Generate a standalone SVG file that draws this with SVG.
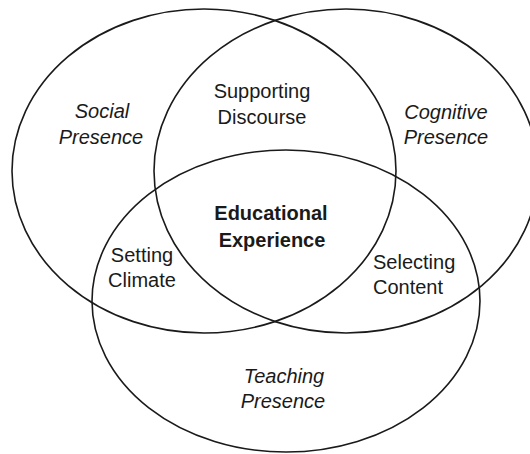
<svg xmlns="http://www.w3.org/2000/svg" width="530" height="454" viewBox="0 0 530 454">
<style>
.c{fill:none;stroke:#1a1a1a;stroke-width:1.6}
text{font-family:"Liberation Sans",Arial,sans-serif;font-size:20px;fill:#1a1a1a}
.i{font-style:italic}
.b{font-weight:bold}
.m{text-anchor:middle}
</style>
<rect width="530" height="454" fill="#fff"/>
<g id="social">
<ellipse class="c" cx="204" cy="171" rx="192" ry="162"/>
<text class="i m" x="102" y="118">Social</text>
<text class="i m" x="101" y="144">Presence</text>
</g>
<g id="cognitive">
<ellipse class="c" cx="346" cy="171" rx="192" ry="162"/>
<text class="i m" x="446" y="119">Cognitive</text>
<text class="i m" x="446" y="144">Presence</text>
</g>
<g id="teaching">
<ellipse class="c" cx="286" cy="301" rx="194" ry="151"/>
<text class="i m" x="284" y="383">Teaching</text>
<text class="i m" x="283" y="408">Presence</text>
</g>
<g id="supporting-discourse">
<text class="m" x="262" y="98">Supporting</text>
<text class="m" x="262" y="124">Discourse</text>
</g>
<g id="setting-climate">
<text class="m" x="142" y="262">Setting</text>
<text class="m" x="142" y="287">Climate</text>
</g>
<g id="selecting-content">
<text x="373" y="269">Selecting</text>
<text x="373" y="294">Content</text>
</g>
<g id="educational-experience">
<text class="b m" x="271" y="220">Educational</text>
<text class="b m" x="272" y="247">Experience</text>
</g>
<g id="connectors"></g>
</svg>
